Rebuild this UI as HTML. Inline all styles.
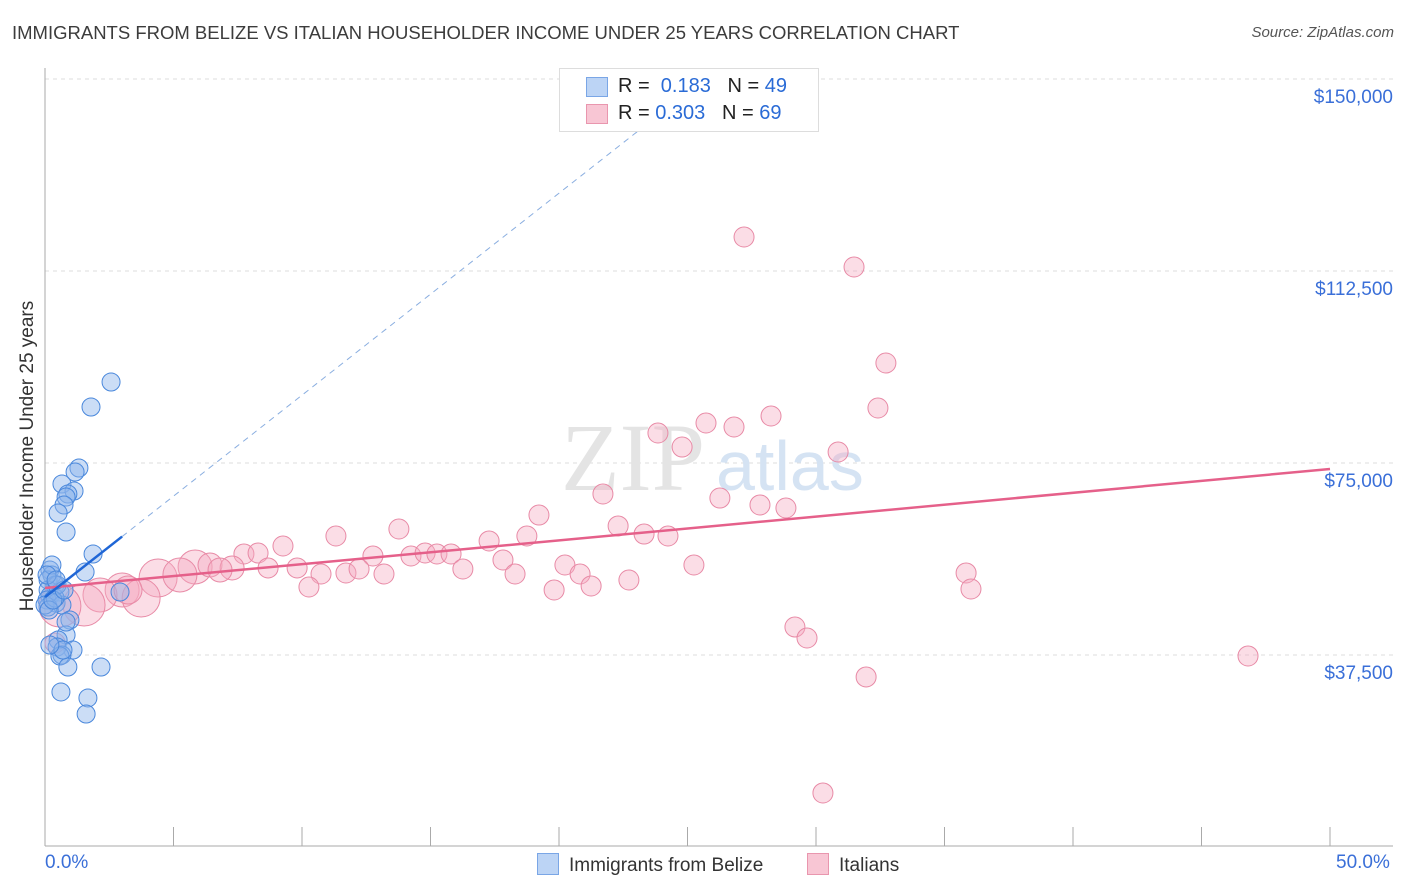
<!DOCTYPE html>
<html><head><meta charset="utf-8"><style>
body{margin:0;background:#fff;font-family:"Liberation Sans",sans-serif;}
#wrap{position:relative;width:1406px;height:892px;overflow:hidden;}
.t{position:absolute;white-space:nowrap;}
</style></head><body>
<div id="wrap">
<div class="t" style="left:12px;top:22px;font-size:18.5px;color:#3c3c3c;">IMMIGRANTS FROM BELIZE VS ITALIAN HOUSEHOLDER INCOME UNDER 25 YEARS CORRELATION CHART</div>
<div class="t" style="right:12px;top:24px;font-size:15px;color:#555;font-style:italic;">Source: ZipAtlas.com</div>
<div class="t" style="left:28px;top:456px;font-size:19px;color:#333;transform:translate(-50%,-50%) rotate(-90deg);">Householder Income Under 25 years</div>
<svg id="svg" width="1406" height="892" style="position:absolute;left:0;top:0"></svg>
</div>
<script>
const blueX=[2.57,1.79,1.32,1.17,0.66,1.13,0.89,0.82,0.74,0.51,0.82,1.87,1.56,0.19,0.27,0.12,0.39,0.12,0.58,0.19,0.08,0.43,0.66,0.12,2.92,0.97,0.82,0.51,1.09,0.47,0.66,0.58,0.89,2.18,0.62,1.67,1.60,0,0.39,0.27,0.82,0.16,0.47,0.31,0.74,0.08,0.43,0.70,0.19];
const blueY=[90820,85940,74020,73240,70900,69530,68950,68360,66800,65240,61520,57230,53710,54100,53130,52150,51170,50200,49810,49030,48240,47660,47270,46880,49810,44340,41410,40430,38480,39060,37500,37310,35160,35160,30280,29110,25980,47270,48630,55080,43950,46290,51170,48240,50200,53130,52150,38480,39450];
const pinkX=[27.20,31.48,32.72,32.41,25.72,26.81,28.25,23.85,24.79,30.86,21.71,26.26,27.82,28.83,22.30,19.22,13.77,11.32,23.31,24.24,18.75,17.28,9.26,7.74,8.29,12.76,14.24,14.79,15.25,15.80,17.82,20.23,25.25,16.26,5.84,6.42,7.28,6.81,8.68,9.81,10.74,11.71,12.22,13.19,18.29,20.82,22.72,35.84,4.40,5.25,3.00,2.14,3.74,1.52,0.58,10.27,19.81,21.25,36.03,29.18,29.65,0.39,31.95,46.81,30.27,3.23];
const pinkY=[119140,113280,94530,85740,82810,82030,84180,80860,78120,77150,68950,68160,66800,66210,62700,64840,62110,60740,61130,60740,60740,59770,58790,57230,57420,56840,56840,57420,57230,57230,56060,55080,55080,54300,54690,55080,54500,54100,54500,54500,53320,53520,54300,53320,53320,53320,52150,53520,52540,53130,50200,49220,48630,47270,47070,50780,50200,50980,50390,42970,40820,39850,33210,37310,10550,50200];
const pinkSize=[1,1,1,1,1,1,1,1,1,1,1,1,1,1,1,1,1,1,1,1,1,1,1,1,1,1,1,1,1,1,1,1,1,1,1.7,1.2,1.2,1.2,1,1,1,1,1,1,1,1,1,1,1.9,1.7,1.7,1.7,1.9,2.1,2.1,1,1,1,1,1,1,1,1,1,1,1.4];
const yTicks=[37500,75000,112500,150000];
const yTickLabels=["$37,500","$75,000","$112,500","$150,000"];
const xTickVals=[0,5,10,15,20,25,30,35,40,45,50];
const blueTrend=[48800,3945];
const pinkTrend=[50590,73830];
const svg=document.getElementById('svg');const NS='http://www.w3.org/2000/svg';
const X=v=>45+v*25.7;const Y=v=>847-v*192/37500;
function mk(t,a,p){const e=document.createElementNS(NS,t);for(const k in a)e.setAttribute(k,a[k]);(p||svg).appendChild(e);return e;}
yTicks.forEach((v,i)=>{const g=mk('line',{x1:45,x2:1393,y1:Y(v),y2:Y(v),stroke:'#ddd','stroke-dasharray':'4 4'});

const t=mk('text',{x:1393,y:Y(v)+24,'text-anchor':'end','font-size':19,fill:'#3a6fd8','font-family':'Liberation Sans'});t.textContent=yTickLabels[i];
});
const ax=mk('line',{x1:45,x2:45,y1:68,y2:846,stroke:'#aaa'});
const bx=mk('line',{x1:45,x2:1393,y1:846,y2:846,stroke:'#aaa'});
xTickVals.forEach(v=>{const l=mk('line',{x1:X(v),x2:X(v),y1:827,y2:846,stroke:'#aaa'});});
const wm=mk('text',{x:633,y:490,'text-anchor':'middle','font-size':96,'font-family':'Liberation Serif',fill:'#e4e4e4'});wm.textContent='ZIP';

const wm2=mk('text',{x:716,y:490,'font-size':70,'font-family':'Liberation Sans',fill:'#d5e3f3'});wm2.textContent='atlas';

pinkX.forEach((x,i)=>{const c=mk('circle',{cx:X(x),cy:Y(pinkY[i]),r:10*pinkSize[i],fill:'rgba(246,170,192,0.4)',stroke:'#e88aa6','stroke-width':1});
});
blueX.forEach((x,i)=>{const c=mk('circle',{cx:X(x),cy:Y(blueY[i]),r:9,fill:'rgba(140,180,235,0.45)',stroke:'#4a88dc','stroke-width':1});
});
const pl=mk('line',{x1:X(0),y1:Y(pinkTrend[0]),x2:X(50),y2:Y(pinkTrend[1]),stroke:'#e5608a','stroke-width':2.5});

const xEnd=(140000-blueTrend[0])/blueTrend[1];
const bd=mk('line',{x1:X(3),y1:Y(blueTrend[0]+3*blueTrend[1]),x2:X(xEnd),y2:Y(blueTrend[0]+xEnd*blueTrend[1]),stroke:'#8aaee0','stroke-width':1,'stroke-dasharray':'6 5'});

const bl=mk('line',{x1:X(0),y1:Y(blueTrend[0]),x2:X(3),y2:Y(blueTrend[0]+3*blueTrend[1]),stroke:'#1f66d6','stroke-width':2.5});

</script>
<div class="t" style="left:45px;top:852px;font-size:19px;color:#3a6fd8;">0.0%</div>
<div class="t" style="left:1336px;top:852px;font-size:19px;color:#3a6fd8;">50.0%</div>
<div style="position:absolute;left:559px;top:68px;width:258px;height:62px;border:1px solid #ddd;background:#fff;font-size:20px;color:#222;">
<div style="position:absolute;left:26px;top:8px;width:20px;height:18px;background:#bcd4f5;border:1px solid #7aa6e6;"></div>
<div class="t" style="left:58px;top:6px;">R = <span style="color:#2a6bd6">&nbsp;0.183</span> &nbsp;&nbsp;N = <span style="color:#2a6bd6">49</span></div>
<div style="position:absolute;left:26px;top:35px;width:20px;height:18px;background:#f8c6d4;border:1px solid #e996ae;"></div>
<div class="t" style="left:58px;top:33px;">R = <span style="color:#2a6bd6">0.303</span> &nbsp;&nbsp;N = <span style="color:#2a6bd6">69</span></div>
</div>
<div style="position:absolute;left:537px;top:853px;font-size:19px;color:#333;">
<span style="display:inline-block;width:20px;height:20px;background:#bcd4f5;border:1px solid #7aa6e6;vertical-align:-4px;margin-right:10px;"></span>Immigrants from Belize</div>
<div style="position:absolute;left:807px;top:853px;font-size:19px;color:#333;">
<span style="display:inline-block;width:20px;height:20px;background:#f8c6d4;border:1px solid #e996ae;vertical-align:-4px;margin-right:10px;"></span>Italians</div>
</body></html>
